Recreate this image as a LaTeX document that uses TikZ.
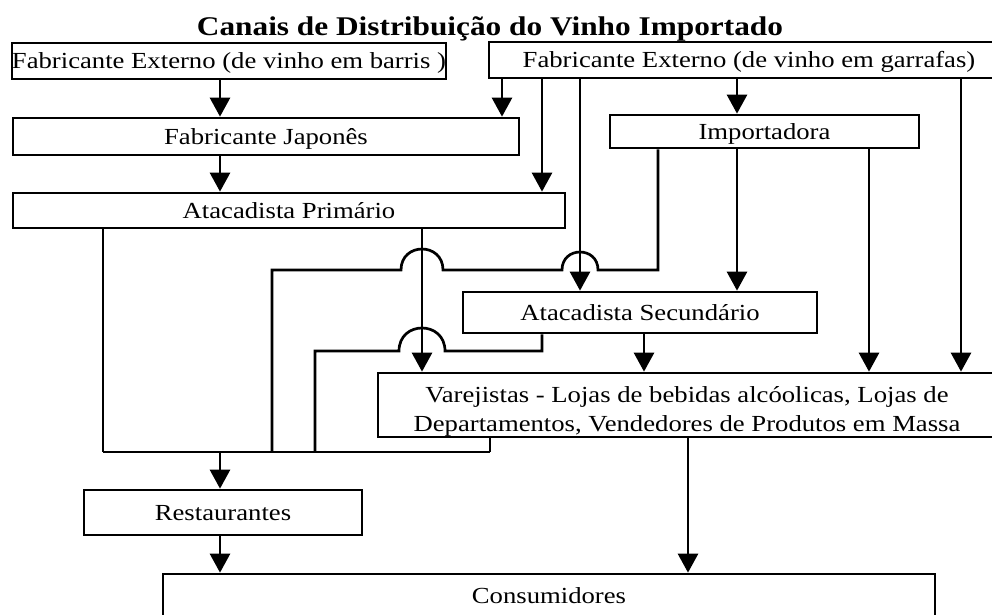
\documentclass[tikz,border=0pt]{standalone}
\usepackage{fontspec}
\setmainfont{Liberation Serif}[FakeStretch=1.16]
\usetikzlibrary{arrows.meta}
\begin{document}
\begin{tikzpicture}[x=1pt,y=-1pt,line width=2.7pt,
  box/.style={draw,rectangle,inner sep=0pt,font=\fontsize{23}{29}\selectfont,align=center},
  onel/.style={text height=20pt,text depth=5pt},
  arr/.style={-{Triangle[width=20pt,length=19pt]}}]
\useasboundingbox (0,0) rectangle (992,614);
\clip (0,0) rectangle (992,614);
% title
\node[font=\fontsize{27}{32}\selectfont\bfseries,anchor=base] (title) at (490,35) {Canais de Distribuição do Vinho Importado};
% boxes
\node[box,onel,minimum width=432pt,minimum height=36pt] (fe1) at (229,61) {Fabricante Externo (de vinho em barris )};
\node[box,onel,minimum width=520pt,minimum height=36pt] (fe2) at (749,60) {Fabricante Externo (de vinho em garrafas)};
\node[box,onel,minimum width=506pt,minimum height=37pt] (fj) at (266,136.5) {Fabricante Japonês};
\node[box,onel,minimum width=309pt,minimum height=33pt] (imp) at (764.5,131.5) {Importadora};
\node[box,onel,minimum width=552pt,minimum height=35pt] (ap) at (289,210.5) {Atacadista Primário};
\node[box,onel,minimum width=354pt,minimum height=41pt] (as) at (640,312.5) {Atacadista Secundário};
\node[box,minimum width=618pt,minimum height=64pt] (var) at (687,405) {\rule{0pt}{28pt}Varejistas - Lojas de bebidas alcóolicas, Lojas de\\Departamentos, Vendedores de Produtos em Massa};
\node[box,onel,minimum width=278pt,minimum height=45pt] (rest) at (223,512.5) {Restaurantes};
\node[box,onel,minimum width=772pt,minimum height=44pt] (cons) at (549,596) {Consumidores};
% column coordinates
\coordinate (x103) at (103,0);
\coordinate (x220) at (220,0);
\coordinate (x272) at (272,0);
\coordinate (x315) at (315,0);
\coordinate (x422) at (422,0);
\coordinate (x502) at (502,0);
\coordinate (x542) at (542,0);
\coordinate (x580) at (580,0);
\coordinate (x644) at (644,0);
\coordinate (x658) at (658,0);
\coordinate (x688) at (688,0);
\coordinate (x737) at (737,0);
\coordinate (x869) at (869,0);
\coordinate (x961) at (961,0);
\coordinate (busL) at (103,452);
\coordinate (busR) at (490,452);
% connectors
\draw[arr] (fe1.south -| x220) -- (fj.north -| x220);
\draw[arr] (fj.south -| x220) -- (ap.north -| x220);
\draw[arr] (fe2.south -| x502) -- (fj.north -| x502);
\draw[arr] (fe2.south -| x542) -- (ap.north -| x542);
\draw[arr] (fe2.south -| x580) -- (as.north -| x580);
\draw[arr] (fe2.south -| x737) -- (imp.north -| x737);
\draw[arr] (fe2.south -| x961) -- (var.north -| x961);
\draw[arr] (imp.south -| x869) -- (var.north -| x869);
\draw[arr] (imp.south -| x737) -- (as.north -| x737);
\draw (imp.south -| x658) -- (658,270) -- (598,270) .. controls (598,246) and (562,246) .. (562,270)
  -- (443,270) .. controls (443,242) and (401,242) .. (401,270) -- (272,270) -- (busL -| x272);
\draw (ap.south -| x103) -- (busL);
\draw[arr] (ap.south -| x422) -- (var.north -| x422);
\draw (as.south -| x542) -- (542,351) -- (445,351) .. controls (445,320.3) and (399,320.3) .. (399,351)
  -- (315,351) -- (busL -| x315);
\draw[arr] (as.south -| x644) -- (var.north -| x644);
\draw (var.south -| busR) -- (busR);
\draw (busL) -- (busR);
\draw[arr] (busL -| x220) -- (rest.north -| x220);
\draw[arr] (rest.south -| x220) -- (cons.north -| x220);
\draw[arr] (var.south -| x688) -- (cons.north -| x688);
\end{tikzpicture}
\end{document}
